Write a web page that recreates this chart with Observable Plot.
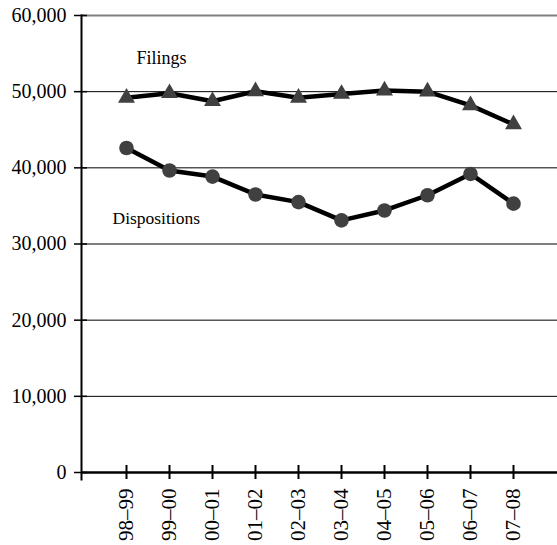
<!DOCTYPE html>
<html>
<head>
<meta charset="utf-8">
<script src="https://cdn.jsdelivr.net/npm/d3@7"></script>
<script src="https://cdn.jsdelivr.net/npm/@observablehq/plot@0.6"></script>
<style>
  html, body { margin: 0; padding: 0; background: #fff; }
  svg { display: block; }
  svg text { font-family: 'Liberation Serif', 'Times New Roman', serif; }
</style>
</head>
<body>
<div id="chart"></div>
<script>
const years = ["98–99", "99–00", "00–01", "01–02", "02–03", "03–04", "04–05", "05–06", "06–07", "07–08"];
const filings = [49200, 49800, 48750, 50050, 49200, 49700, 50150, 50000, 48200, 45700];
const dispositions = [42600, 39650, 38850, 36500, 35500, 33100, 34400, 36400, 39200, 35300];
const yTicks = [0, 10000, 20000, 30000, 40000, 50000, 60000];
const gridLines = [10000, 20000, 30000, 40000, 50000];
const seriesLabels = [
  {text: "Filings", year: "98–99", value: 54330},
  {text: "Dispositions", year: "98–99", value: 33320}
];

const fData = years.map((y, i) => ({year: y, value: filings[i]}));
const dData = years.map((y, i) => ({year: y, value: dispositions[i]}));
const serif = "'Liberation Serif', 'Times New Roman', serif";

const chart = Plot.plot({
  width: 557,
  height: 545,
  marginLeft: 81,
  marginRight: 0,
  marginTop: 15,
  marginBottom: 73,
  style: {fontFamily: serif, fontSize: "20px", color: "#000", background: "#fff"},
  x: {type: "point", domain: years, padding: 1, label: null},
  y: {domain: [0, 60000], label: null},
  marks: [
    Plot.ruleY(gridLines, {stroke: "#000", strokeWidth: 1}),
    Plot.ruleY([60000], {stroke: "#808080", strokeWidth: 2}),
    Plot.frame({anchor: "left", stroke: "#000", strokeWidth: 2, insetBottom: -7}),
    Plot.axisY({ticks: yTicks, tickSize: 13, dx: 6, text: null, label: null, stroke: "#000", strokeWidth: 1.5}),
    Plot.axisY({ticks: yTicks, tickSize: 0, tickPadding: 15, tickFormat: d3.format(","), label: null, fontSize: 20, fontFamily: serif}),
    Plot.axisX({tickSize: 14, dy: -7, text: null, label: null, stroke: "#000", strokeWidth: 2}),
    Plot.axisX({tickSize: 0, tickPadding: 16, tickRotate: -90, label: null, fontSize: 21, fontFamily: serif}),
    Plot.ruleY([0], {stroke: "#000", strokeWidth: 2.5}),
    Plot.line(fData, {x: "year", y: "value", stroke: "#000", strokeWidth: 4.5}),
    Plot.dot(fData, {x: "year", y: "value", symbol: "triangle", r: 6.3, fill: "#404040", stroke: "none"}),
    Plot.line(dData, {x: "year", y: "value", stroke: "#000", strokeWidth: 4.5}),
    Plot.dot(dData, {x: "year", y: "value", symbol: "circle", r: 7.3, fill: "#404040", stroke: "none"}),
    Plot.text(seriesLabels.slice(0, 1), {x: "year", y: "value", text: "text", dx: 10, textAnchor: "start", fontSize: 18, fontFamily: serif}),
    Plot.text(seriesLabels.slice(1), {x: "year", y: "value", text: "text", dx: -14, textAnchor: "start", fontSize: 17.5, fontFamily: serif})
  ]
});
document.getElementById("chart").appendChild(chart);
</script>
</body>
</html>
